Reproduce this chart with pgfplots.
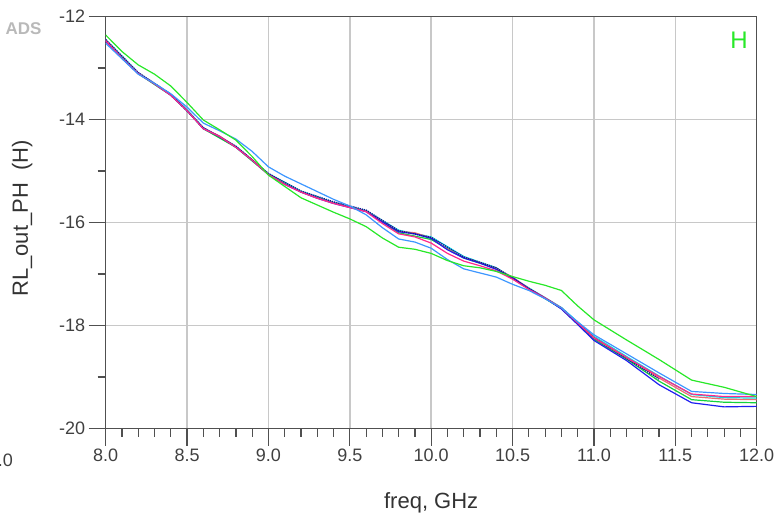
\documentclass[border=0pt]{standalone}
\usepackage{fontspec}
\setmainfont{Liberation Sans}
\usepackage{pgfplots}
\pgfplotsset{compat=1.18}
\definecolor{gA}{RGB}{40,232,40}
\definecolor{gB}{RGB}{20,210,60}
\definecolor{bA}{RGB}{30,30,240}
\definecolor{lb}{RGB}{60,150,255}
\definecolor{pk}{RGB}{255,40,140}
\definecolor{sa}{RGB}{235,110,110}
\definecolor{cy}{RGB}{0,225,230}
\definecolor{nv}{RGB}{20,20,150}
\definecolor{gridc}{RGB}{200,200,200}
\definecolor{axc}{RGB}{80,80,80}
\begin{document}
\begin{tikzpicture}
\useasboundingbox (0,0) rectangle (782pt,520pt);
\node[text=gray!55, font=\fontsize{17}{18}\selectfont\bfseries] at (23.5pt,491pt) {ADS};
\node[text=gA, font=\fontsize{24}{26}\selectfont] at (739pt,479.5pt) {H};
\node[anchor=east, inner sep=0pt, font=\fontsize{18}{20}\selectfont, text=black!75] at (13pt,60pt) {12.0};
\begin{axis}[
  at={(105.7pt,91.5pt)}, anchor=south west,
  width=651pt, height=412pt, scale only axis,
  xmin=8, xmax=12, ymin=-20, ymax=-12,
  xtick={8,8.5,9,9.5,10,10.5,11,11.5,12},
  ytick={-20,-18,-16,-14,-12},
  minor x tick num=4, minor y tick num=1,
  tick align=outside, tick pos=left,
  major tick length=17pt, minor tick length=8pt,
  grid=major,
  major grid style={draw=gridc, line width=1.5pt},
  axis line style={draw=axc, line width=1.5pt},
  tick style={draw=axc, line width=1.2pt},
  /pgf/number format/assume math mode=true,
  ticklabel style={font=\fontsize{18}{20}\selectfont, text=black!75},
  xticklabel style={/pgf/number format/fixed, /pgf/number format/fixed zerofill, /pgf/number format/precision=1},
  label style={font=\fontsize{22}{24}\selectfont, text=black!80},
  xlabel={freq, GHz},
  xlabel style={at={(axis description cs:0.5,0)}, anchor=center, yshift=-74.5pt},
  ylabel={RL\_out\_PH\ \ (H)},
  ylabel style={at={(axis description cs:-0.1283,0.51)}, anchor=center, rotate=0},
  every axis plot/.append style={line width=1.2pt},
]
% cyan
\addplot[cy] table {
8.0 -12.45
8.2 -13.09
8.4 -13.51
8.5 -13.81
8.6 -14.16
8.8 -14.52
9.0 -15.05
9.2 -15.39
9.4 -15.61
9.6 -15.77
9.8 -16.15
10.0 -16.28
10.2 -16.66
10.4 -16.88
10.6 -17.27
10.8 -17.65
11.0 -18.21
11.2 -18.60
11.4 -18.98
11.6 -19.34
11.8 -19.40
12.0 -19.41
};
% bundle green
\addplot[gB] table {
8.0 -12.47
8.2 -13.11
8.4 -13.53
8.5 -13.83
8.6 -14.18
8.8 -14.54
9.0 -15.07
9.2 -15.41
9.4 -15.62
9.6 -15.78
9.8 -16.20
10.0 -16.33
10.2 -16.69
10.4 -16.89
10.6 -17.29
10.8 -17.67
11.0 -18.27
11.2 -18.65
11.4 -19.08
11.6 -19.44
11.8 -19.49
12.0 -19.50
};
% salmon
\addplot[sa] table {
8.0 -12.46
8.1 -12.80
8.2 -13.10
8.3 -13.30
8.4 -13.52
8.5 -13.82
8.6 -14.17
8.7 -14.32
8.8 -14.53
8.9 -14.78
9.0 -15.06
9.1 -15.25
9.2 -15.40
9.3 -15.52
9.4 -15.62
9.5 -15.70
9.6 -15.78
9.7 -15.98
9.8 -16.17
9.9 -16.20
10.0 -16.30
10.1 -16.52
10.2 -16.68
10.3 -16.78
10.4 -16.90
10.5 -17.06
10.6 -17.28
10.7 -17.46
10.8 -17.66
10.9 -17.95
11.0 -18.23
11.2 -18.62
11.4 -19.02
11.6 -19.38
11.8 -19.43
12.0 -19.44
};
% blue
\addplot[bA] table {
8.0 -12.48
8.1 -12.81
8.2 -13.11
8.3 -13.31
8.4 -13.53
8.5 -13.83
8.6 -14.18
8.7 -14.33
8.8 -14.54
8.9 -14.79
9.0 -15.07
9.1 -15.26
9.2 -15.41
9.3 -15.53
9.4 -15.63
9.5 -15.71
9.6 -15.79
9.7 -15.99
9.8 -16.18
9.9 -16.22
10.0 -16.31
10.1 -16.53
10.2 -16.69
10.3 -16.79
10.4 -16.91
10.5 -17.07
10.6 -17.29
10.7 -17.47
10.8 -17.68
10.9 -17.98
11.0 -18.29
11.2 -18.68
11.4 -19.15
11.6 -19.50
11.8 -19.58
12.0 -19.57
};
% navy dotted
\addplot[nv, densely dotted, line width=1.4pt] table {
8.0 -12.45
8.2 -13.09
8.4 -13.51
8.6 -14.16
8.8 -14.52
9.0 -15.05
9.2 -15.39
9.4 -15.60
9.6 -15.76
9.8 -16.16
10.0 -16.29
10.2 -16.67
10.4 -16.88
10.6 -17.28
10.8 -17.66
11.0 -18.24
11.2 -18.64
11.4 -19.04
};
% pink
\addplot[pk] table {
8.0 -12.47
8.1 -12.81
8.2 -13.11
8.3 -13.31
8.4 -13.53
8.5 -13.83
8.6 -14.18
8.7 -14.33
8.8 -14.54
8.9 -14.79
9.0 -15.07
9.1 -15.26
9.2 -15.41
9.3 -15.53
9.4 -15.63
9.5 -15.71
9.6 -15.79
9.7 -16.02
9.8 -16.22
9.9 -16.28
10.0 -16.40
10.1 -16.60
10.2 -16.75
10.3 -16.84
10.4 -16.94
10.5 -17.10
10.6 -17.30
10.7 -17.47
10.8 -17.66
10.9 -17.95
11.0 -18.24
11.2 -18.62
11.4 -18.99
11.6 -19.33
11.8 -19.38
12.0 -19.38
};
% light blue
\addplot[lb] table {
8.0 -12.52
8.1 -12.82
8.2 -13.12
8.3 -13.30
8.4 -13.50
8.5 -13.76
8.6 -14.07
8.7 -14.22
8.8 -14.38
8.9 -14.62
9.0 -14.92
9.1 -15.10
9.2 -15.25
9.3 -15.40
9.4 -15.55
9.5 -15.68
9.6 -15.85
9.7 -16.10
9.8 -16.32
9.9 -16.38
10.0 -16.50
10.1 -16.72
10.2 -16.90
10.3 -16.98
10.4 -17.06
10.5 -17.20
10.6 -17.32
10.7 -17.48
10.8 -17.66
10.9 -17.93
11.0 -18.18
11.2 -18.55
11.4 -18.92
11.6 -19.28
11.8 -19.32
12.0 -19.34
};
% green (distinct)
\addplot[gA] table {
8.0 -12.36
8.1 -12.68
8.2 -12.94
8.3 -13.12
8.4 -13.35
8.5 -13.67
8.6 -14.01
8.7 -14.20
8.8 -14.40
8.9 -14.72
9.0 -15.08
9.1 -15.30
9.2 -15.52
9.3 -15.66
9.4 -15.80
9.5 -15.93
9.6 -16.08
9.7 -16.30
9.8 -16.48
9.9 -16.52
10.0 -16.60
10.1 -16.74
10.2 -16.84
10.3 -16.88
10.4 -16.95
10.5 -17.05
10.6 -17.14
10.7 -17.22
10.8 -17.32
10.9 -17.62
11.0 -17.89
11.2 -18.28
11.4 -18.66
11.6 -19.06
11.8 -19.20
12.0 -19.38
};
\end{axis}
\end{tikzpicture}
\end{document}
